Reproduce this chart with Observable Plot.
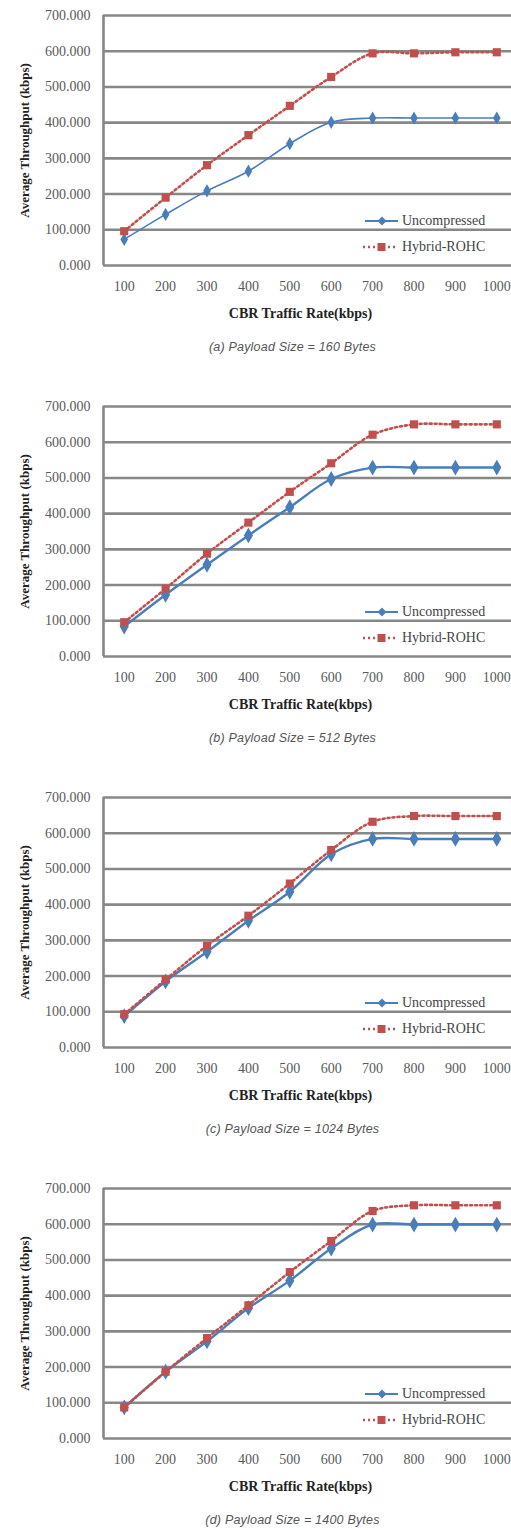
<!DOCTYPE html>
<html><head><meta charset="utf-8">
<script src="https://cdn.jsdelivr.net/npm/d3@7"></script>
<script src="https://cdn.jsdelivr.net/npm/@observablehq/plot@0.6"></script>
<style>
body{margin:0;background:#fff;}
#root{width:511px;}
.panel{position:relative;width:511px;height:391px;overflow:hidden;}
.panel svg.plot{position:absolute;left:0;top:0;}
.legend{position:absolute;left:363px;top:208px;font-family:"Liberation Serif",serif;font-size:14px;color:#444;}
.legend .row{display:flex;align-items:center;height:26px;}
.legend svg{margin-right:3px;}
.caption{position:absolute;left:0;width:511px;top:340px;text-align:center;padding-left:74px;box-sizing:border-box;
  font-family:"Liberation Sans",sans-serif;font-style:italic;font-size:12.5px;color:#555;letter-spacing:0.2px;}
</style></head><body><div id="root"></div>
<script>
const rates = [100, 200, 300, 400, 500, 600, 700, 800, 900, 1000];
const yTicks = [0, 100, 200, 300, 400, 500, 600, 700];
const seriesNames = ["Uncompressed", "Hybrid-ROHC"];
const captions = [
  "(a) Payload Size = 160 Bytes",
  "(b) Payload Size = 512 Bytes",
  "(c) Payload Size = 1024 Bytes",
  "(d) Payload Size = 1400 Bytes"
];
const uncompressedA = [73, 143, 209, 264, 341, 401, 413, 413, 413, 413];
const hybridA       = [96, 190, 281, 365, 447, 528, 594, 594, 597, 597];
const uncompressedB = [84, 173, 257, 339, 418, 497, 529, 529, 529, 529];
const hybridB       = [96, 190, 288, 375, 461, 541, 621, 650, 650, 650];
const uncompressedC = [88, 185, 268, 355, 436, 541, 584, 584, 584, 584];
const hybridC       = [93, 190, 285, 369, 459, 553, 632, 648, 648, 648];
const uncompressedD = [87, 187, 272, 365, 442, 532, 599, 599, 599, 599];
const hybridD       = [87, 187, 281, 373, 466, 553, 637, 653, 653, 653];
const xLabel = "CBR Traffic Rate(kbps)";
const yLabel = "Average Throughput (kbps)";

const panels = [
  [uncompressedA, hybridA],
  [uncompressedB, hybridB],
  [uncompressedC, hybridC],
  [uncompressedD, hybridD]
];

const blue = "#4A7EBB", red = "#C0504D", grid = "#878787";
const xDomain = [50, 1035.5];
const dash = "2,3";

function legendHTML(){
  return `<div class="legend">
   <div class="row"><svg width="36" height="14"><line x1="2" x2="35" y1="7" y2="7" stroke="${blue}" stroke-width="2.2"/><path d="M19,2.5 L23.5,7 L19,11.5 L14.5,7Z" fill="${blue}"/></svg><span>${seriesNames[0]}</span></div>
   <div class="row"><svg width="36" height="14"><line x1="0" x2="35" y1="7" y2="7" stroke="${red}" stroke-width="2.5" stroke-dasharray="${dash}"/><rect x="14.5" y="3" width="8" height="8" fill="${red}"/></svg><span>${seriesNames[1]}</span></div>
  </div>`;
}

const root = document.getElementById("root");
panels.forEach(([unc, hyb], k) => {
  const u = rates.map((r, i) => ({rate: r, value: unc[i]}));
  const h = rates.map((r, i) => ({rate: r, value: hyb[i]}));
  const lw = k === 0 ? 1.6 : 2.4;
  const plot = Plot.plot({
    width: 511, height: 325,
    marginTop: 15, marginLeft: 103, marginRight: 0, marginBottom: 60,
    style: {fontFamily: "'Liberation Serif', serif", fontSize: "14px", color: "#5a5a5a", background: "transparent", overflow: "visible"},
    x: {domain: xDomain},
    y: {domain: [0, 700]},
    marks: [
      Plot.ruleY(yTicks, {stroke: grid, strokeWidth: 2.6}),
      Plot.ruleX([xDomain[0]], {stroke: grid, strokeWidth: 2.6}),
      Plot.axisY({ticks: yTicks, tickSize: 0, tickPadding: 13, tickFormat: d3.format(".3f"), label: null}),
      Plot.axisX({ticks: rates, tickSize: 0, tickPadding: 16, tickFormat: d => String(d), label: null}),
      Plot.line(u, {x: "rate", y: "value", stroke: blue, strokeWidth: lw, curve: "catmull-rom"}),
      Plot.dot(u, {x: "rate", y: "value", symbol: "diamond", fill: blue, r: k === 0 ? 4 : 4.8}),
      Plot.line(h, {x: "rate", y: "value", stroke: red, strokeWidth: 2.6, strokeDasharray: dash, curve: "catmull-rom"}),
      Plot.dot(h, {x: "rate", y: "value", symbol: "square", fill: red, r: 4.6}),
      Plot.text([xLabel], {text: d => d, frameAnchor: "bottom", textAnchor: "middle", lineAnchor: "middle", dy: 48, dx: -7, fontWeight: "bold", fill: "#222", fontSize: 14}),
      Plot.text([yLabel], {text: d => d, frameAnchor: "left", textAnchor: "middle", lineAnchor: "middle", dx: -79, rotate: -90, fontWeight: "bold", fill: "#222", fontSize: 13})
    ]
  });
  plot.classList.add("plot");
  const div = document.createElement("div");
  div.className = "panel";
  div.appendChild(plot);
  div.insertAdjacentHTML("beforeend", legendHTML());
  const cap = document.createElement("div");
  cap.className = "caption";
  cap.textContent = captions[k];
  div.appendChild(cap);
  root.appendChild(div);
});
</script>
</body></html>
